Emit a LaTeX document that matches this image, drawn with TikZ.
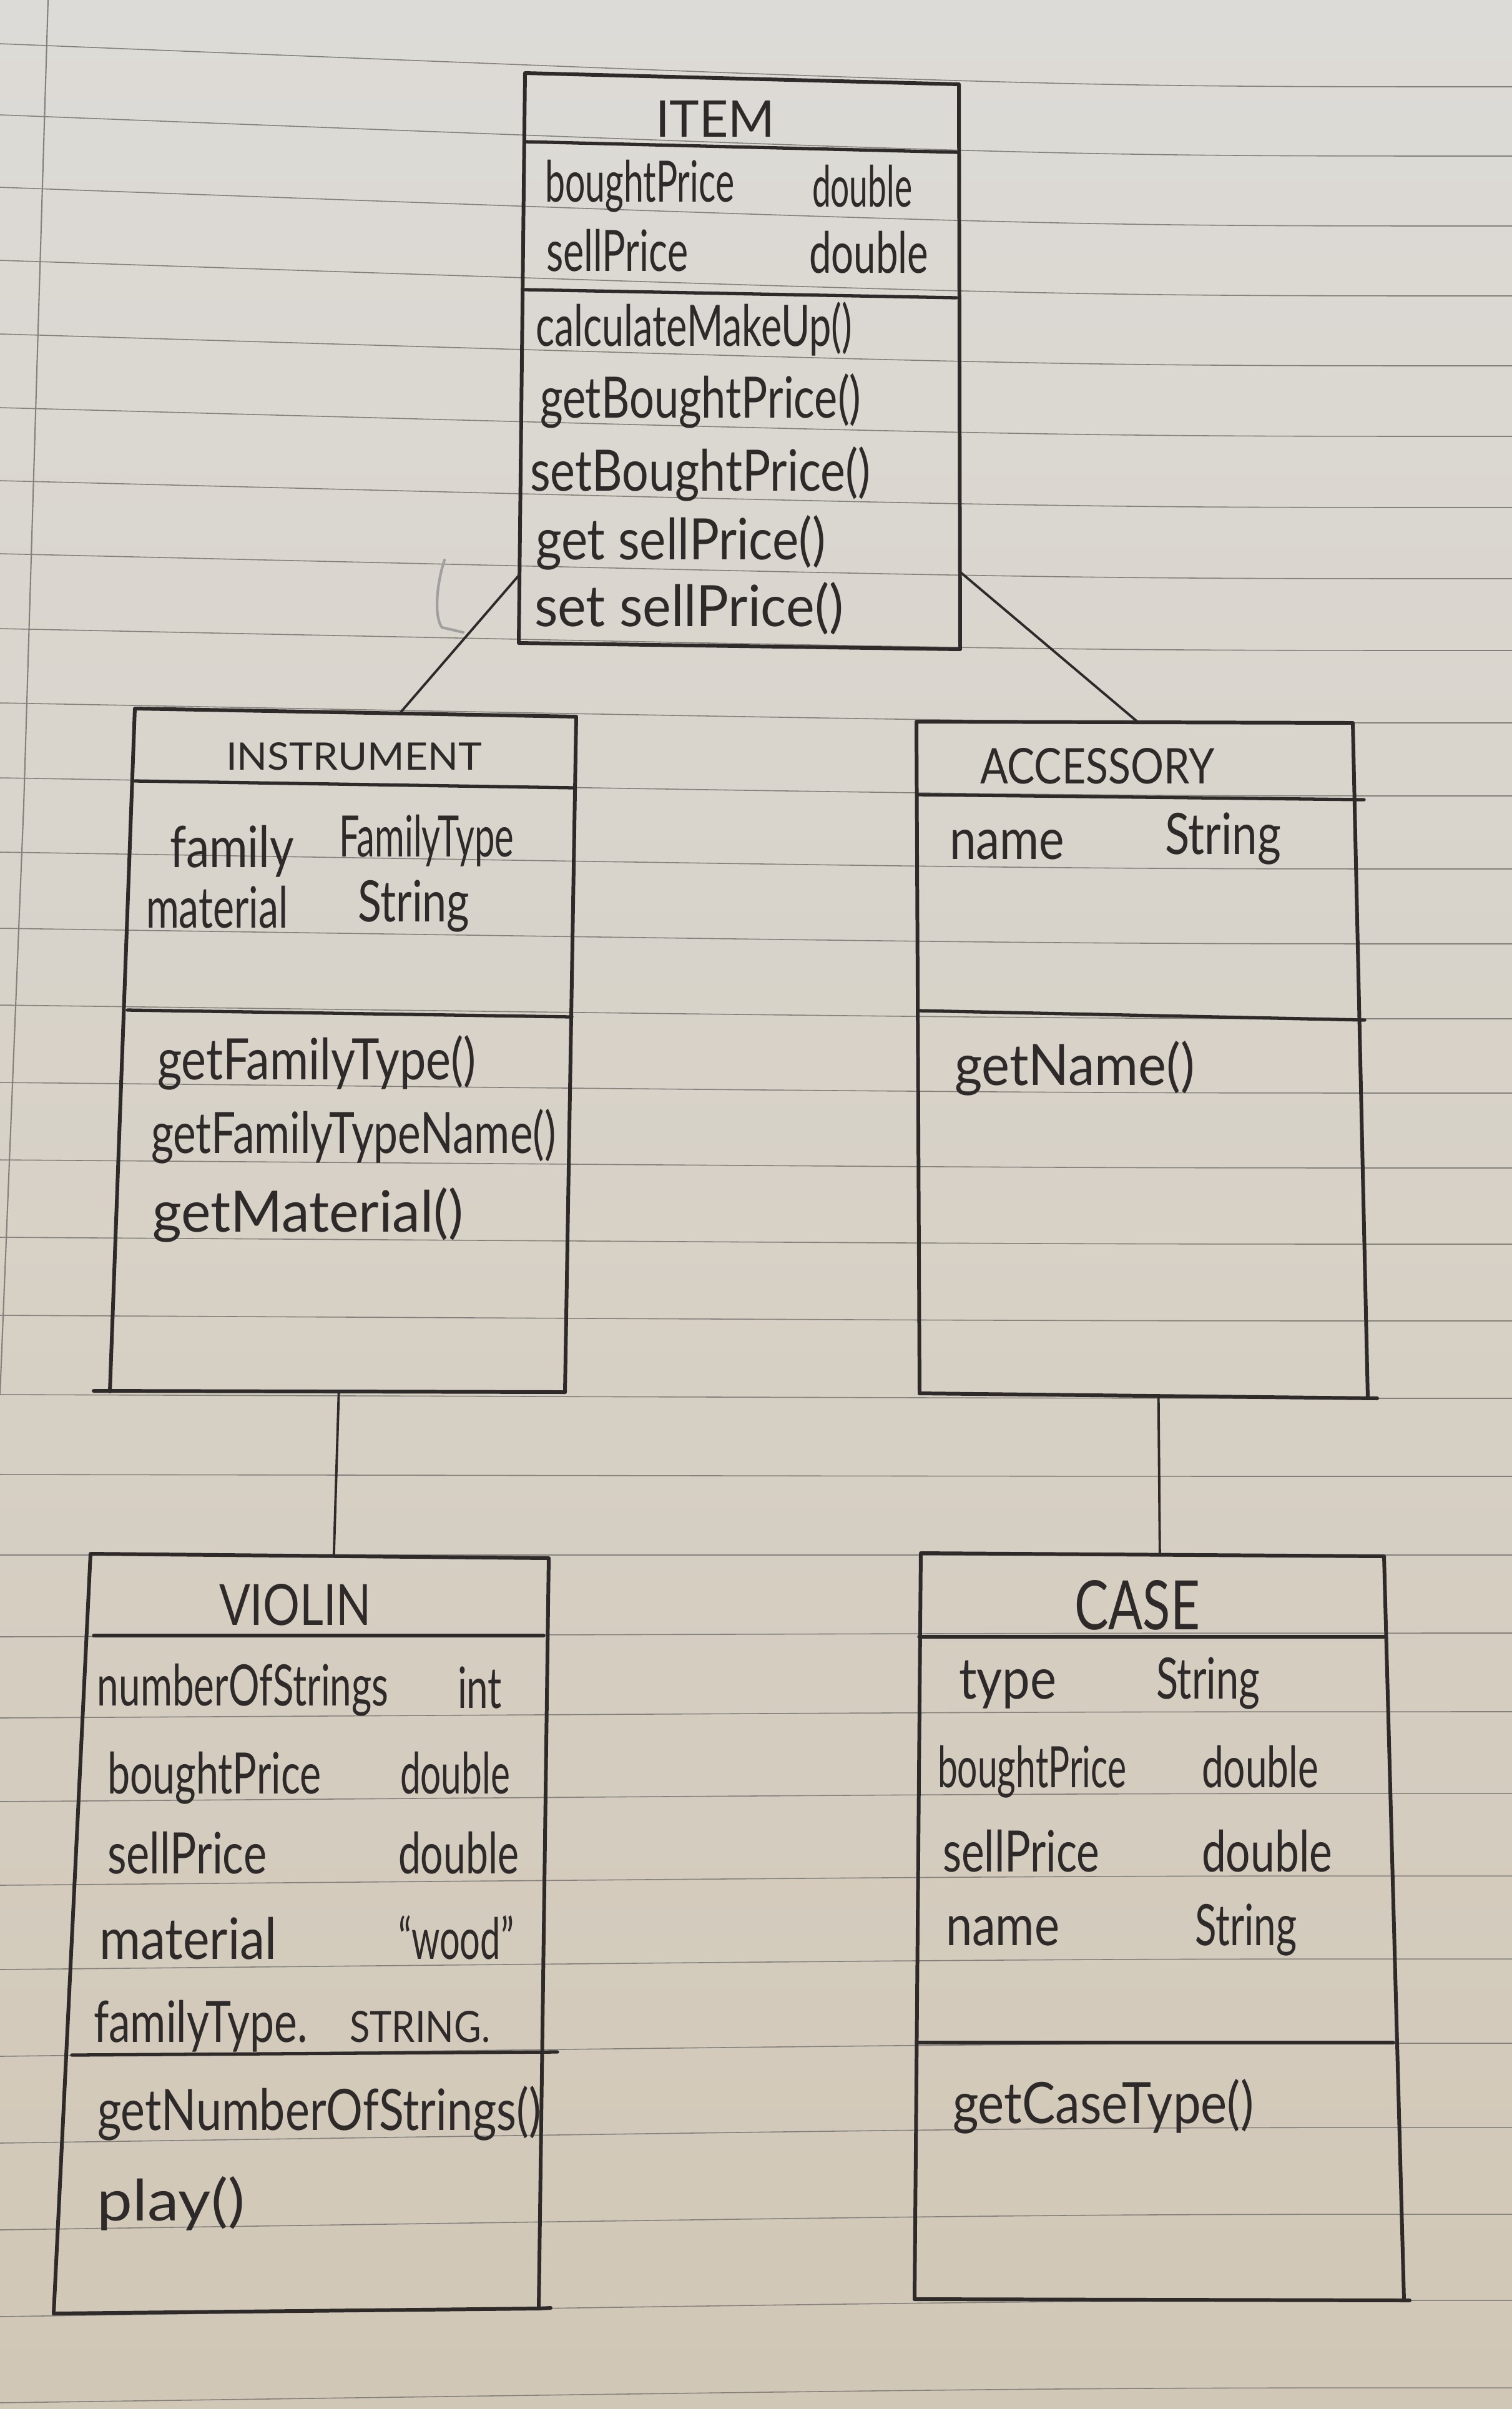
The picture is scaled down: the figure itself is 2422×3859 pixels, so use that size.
\documentclass[tikz,border=0pt]{standalone}
\usepackage{fontspec}
\usepackage{graphicx}
\setmainfont{Lato}
\usetikzlibrary{calc}

\definecolor{inkc}{RGB}{46,42,42}
\definecolor{rulec}{RGB}{132,129,124}
\definecolor{papertop}{RGB}{221,219,215}
\definecolor{paperbot}{RGB}{209,199,182}

% squeeze a text to a given width, keeping its height
\newcommand\fitw[2]{\resizebox{#1}{\height}{#2}}
% squeeze a text to a given width and height (class titles)
\newcommand\fitwh[3]{\resizebox{#1}{#2}{#3}}
\newcommand\handfont{\fontsize{26pt}{30pt}\selectfont}

\tikzset{
  ink/.style={draw=inkc, line width=1.7pt, line cap=round, line join=round},
  divider/.style={draw=inkc, line width=1.5pt, line cap=round},
  link/.style={draw=inkc, line width=1.1pt, line cap=round},
  rule/.style={draw=rulec, line width=0.45pt},
  txt/.style={anchor=base west, inner sep=0pt, outer sep=0pt, text=inkc, font=\handfont},
}

\begin{document}
\begin{tikzpicture}[x=0.01cm, y=-0.01cm]
\useasboundingbox (0,0) rectangle (2422,3859);

% ---------- lined paper ----------
\shade[top color=papertop, bottom color=paperbot] (0,0) rectangle (2422,3859);
\foreach \yl/\yr in {70/139, 184/250, 300/362, 417/474, 535/586, 653/699, 770/813,
  887/927, 1007/1042, 1126/1158, 1246/1275, 1365/1392, 1487/1512, 1610/1632,
  1734/1751, 1858/1871, 1982/1993, 2107/2116, 2234/2240, 2362/2365, 2491/2491,
  2622/2616, 2752/2742, 2886/2873, 3020/3005, 3155/3138, 3294/3273, 3433/3408,
  3572/3547, 3711/3685, 3849/3825}
  \draw[rule] (0,\yl) .. controls (1700,\yr) .. (2422,\yr);
\draw[rule, line width=0.6pt] (77,0) -- (38,1290) -- (0,2234);

% ---------- ITEM ----------
\coordinate (it-tl) at (841,117);  \coordinate (it-tr) at (1536,135);
\coordinate (it-br) at (1538,1040); \coordinate (it-bl) at (831,1030);
\draw[ink] (it-tl) -- (it-tr) -- (it-br) -- (it-bl) -- cycle;
\draw[divider] (841,227) -- (1536,244);
\draw[divider] (841,464) -- (1532,477);
\node[txt] (it-name) at (1050,219) {\fitwh{1.91cm}{0.58cm}{ITEM}};
\node[txt] (it-a1) at (873,323)  {\fitw{3.03cm}{boughtPrice}};
\node[txt] (it-t1) at (1301,331) {\fitw{1.60cm}{double}};
\node[txt] (it-a2) at (875,434)  {\fitw{2.27cm}{sellPrice}};
\node[txt] (it-t2) at (1296,437) {\fitw{1.91cm}{double}};
\node[txt] (it-m1) at (858,554)  {\fitw{5.07cm}{calculateMakeUp()}};
\node[txt] (it-m2) at (865,669)  {\fitw{5.14cm}{getBoughtPrice()}};
\node[txt] (it-m3) at (849,786)  {\fitw{5.45cm}{setBoughtPrice()}};
\node[txt] (it-m4) at (858,896)  {\fitw{4.64cm}{get sellPrice()}};
\node[txt] (it-m5) at (856,1003) {\fitw{4.95cm}{set sellPrice()}};
% stray pen mark beside the box
\draw[draw=inkc!45, line width=1.2pt, line cap=round]
  (712,897) .. controls (698,940) and (696,990) .. (708,1005) -- (742,1013);

% ---------- INSTRUMENT ----------
\coordinate (in-tl) at (216,1135); \coordinate (in-tr) at (923,1148);
\coordinate (in-br) at (905,2230); \coordinate (in-bl) at (176,2229);
\draw[ink] (in-bl) -- (in-tl) -- (in-tr) -- (in-br);
\draw[ink] (150,2228) -- (in-br);
\draw[divider] (216,1251) -- (920,1262);
\draw[divider] (204,1618) -- (916,1629);
\node[txt] (in-name) at (362,1233) {\fitwh{4.10cm}{0.44cm}{INSTRUMENT}};
\node[txt] (in-a1) at (272,1389) {\fitw{1.99cm}{family}};
\node[txt] (in-t1) at (543,1372) {\fitw{2.80cm}{FamilyType}};
\node[txt] (in-a2) at (234,1486) {\fitw{2.27cm}{material}};
\node[txt] (in-t2) at (573,1476) {\fitw{1.79cm}{String}};
\node[txt] (in-m1) at (252,1729) {\fitw{5.10cm}{getFamilyType()}};
\node[txt] (in-m2) at (242,1847) {\fitw{6.48cm}{getFamilyTypeName()}};
\node[txt] (in-m3) at (244,1973) {\fitw{4.98cm}{getMaterial()}};

% ---------- ACCESSORY ----------
\coordinate (ac-tl) at (1468,1156); \coordinate (ac-tr) at (2167,1158);
\coordinate (ac-br) at (2191,2239); \coordinate (ac-bl) at (1473,2232);
\draw[ink] (ac-bl) -- (ac-tl) -- (ac-tr) -- (ac-br);
\draw[ink] (ac-bl) -- (2206,2240);
\draw[divider] (1470,1273) -- (2185,1281);
\draw[divider] (1471,1619) -- (2186,1634);
\node[txt] (ac-name) at (1570,1255) {\fitwh{3.75cm}{0.57cm}{ACCESSORY}};
\node[txt] (ac-a1) at (1521,1376) {\fitw{1.84cm}{name}};
\node[txt] (ac-t1) at (1866,1368) {\fitw{1.86cm}{String}};
\node[txt] (ac-m1) at (1529,1738) {\fitw{3.85cm}{getName()}};

% ---------- VIOLIN ----------
\coordinate (vi-tl) at (145,2489); \coordinate (vi-tr) at (879,2496);
\coordinate (vi-br) at (863,3698); \coordinate (vi-bl) at (86,3706);
\draw[ink] (vi-bl) -- (vi-tl) -- (vi-tr) -- (vi-br) -- (882,3697);
\draw[ink] (vi-bl) -- (vi-br);
\draw[divider] (150,2620) -- (871,2620);
\draw[divider] (115,3292) -- (893,3287);
\node[txt] (vi-name) at (351,2603) {\fitwh{2.44cm}{0.66cm}{VIOLIN}};
\node[txt] (vi-a1) at (156,2732) {\fitw{4.66cm}{numberOfStrings}};
\node[txt] (vi-t1) at (733,2736) {\fitw{0.71cm}{int}};
\node[txt] (vi-a2) at (172,2873) {\fitw{3.42cm}{boughtPrice}};
\node[txt] (vi-t2) at (641,2873) {\fitw{1.76cm}{double}};
\node[txt] (vi-a3) at (172,3001) {\fitw{2.55cm}{sellPrice}};
\node[txt] (vi-t3) at (638,3001) {\fitw{1.93cm}{double}};
\node[txt] (vi-a4) at (159,3138) {\fitw{2.84cm}{material}};
\node[txt] (vi-t4) at (638,3138) {\fitw{1.85cm}{“wood”}};
\node[txt] (vi-a5) at (150,3271) {\fitw{3.42cm}{familyType.}};
\node[txt] (vi-t5) at (560,3271) {\fitwh{2.25cm}{0.50cm}{STRING.}};
\node[txt] (vi-m1) at (156,3412) {\fitw{7.10cm}{getNumberOfStrings()}};
\node[txt] (vi-m2) at (156,3557) {\fitw{2.36cm}{play()}};

% ---------- CASE ----------
\coordinate (ca-tl) at (1475,2488); \coordinate (ca-tr) at (2217,2493);
\coordinate (ca-br) at (2249,3684); \coordinate (ca-bl) at (1465,3683);
\draw[ink] (ca-bl) -- (ca-tl) -- (ca-tr) -- (ca-br);
\draw[ink] (ca-bl) -- (2258,3685);
\draw[divider] (1472,2622) -- (2217,2622);
\draw[divider] (1469,3272) -- (2232,3272);
\node[txt] (ca-name) at (1721,2610) {\fitwh{2.01cm}{0.79cm}{CASE}};
\node[txt] (ca-a1) at (1536,2721) {\fitw{1.56cm}{type}};
\node[txt] (ca-t1) at (1852,2721) {\fitw{1.66cm}{String}};
\node[txt] (ca-a2) at (1502,2863) {\fitw{3.02cm}{boughtPrice}};
\node[txt] (ca-t2) at (1925,2863) {\fitw{1.87cm}{double}};
\node[txt] (ca-a3) at (1510,2998) {\fitw{2.51cm}{sellPrice}};
\node[txt] (ca-t3) at (1925,2998) {\fitw{2.09cm}{double}};
\node[txt] (ca-a4) at (1515,3116) {\fitw{1.82cm}{name}};
\node[txt] (ca-t4) at (1914,3116) {\fitw{1.63cm}{String}};
\node[txt] (ca-m1) at (1526,3401) {\fitw{4.82cm}{getCaseType()}};

% ---------- connectors ----------
\draw[link] ($(it-tl)!0.88!(it-bl)$)  -- ($(in-tl)!0.60!(in-tr)$);
\draw[link] ($(it-tr)!0.863!(it-br)$) -- ($(ac-tl)!0.508!(ac-tr)$);
\draw[link] ($(in-bl)!0.503!(in-br)$) -- ($(vi-tl)!0.531!(vi-tr)$);
\draw[link] ($(ac-bl)!0.533!(ac-br)$) -- ($(ca-tl)!0.516!(ca-tr)$);
\end{tikzpicture}
\end{document}
